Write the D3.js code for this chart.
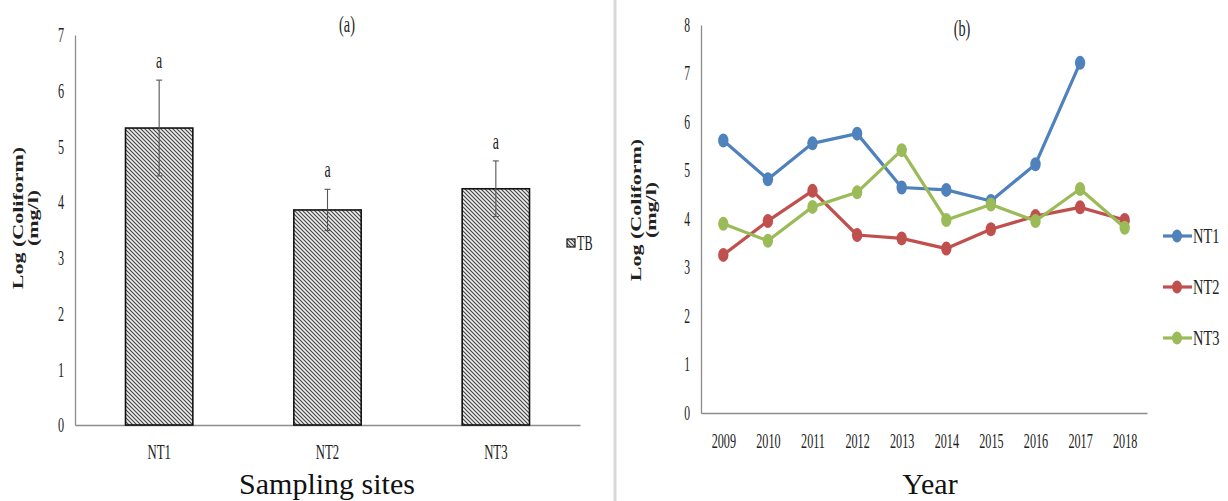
<!DOCTYPE html>
<html>
<head>
<meta charset="utf-8">
<script src="https://cdn.jsdelivr.net/npm/d3@7"></script>
<style>
  html, body { margin: 0; padding: 0; background: #fff; }
  svg { display: block; font-family: "Liberation Serif", "Times New Roman", serif; }
</style>
</head>
<body>
<svg id="chart" width="1228" height="501"></svg>
<script>
// Panel (a): mean log coliform per sampling site with error bars
const sites = ["NT1", "NT2", "NT3"];
const siteMeans = [5.33, 3.86, 4.24];
const siteErrors = [0.86, 0.37, 0.50];
const siteLetters = ["a", "a", "a"];
const barTicks = [0, 1, 2, 3, 4, 5, 6, 7];

// Panel (b): yearly log coliform per site
const years = ["2009", "2010", "2011", "2012", "2013", "2014", "2015", "2016", "2017", "2018"];
const nt1 = [5.62, 4.82, 5.56, 5.76, 4.65, 4.60, 4.37, 5.13, 7.22, null];
const nt2 = [3.26, 3.96, 4.58, 3.67, 3.60, 3.39, 3.79, 4.06, 4.24, 3.98];
const nt3 = [3.90, 3.55, 4.25, 4.55, 5.42, 3.98, 4.30, 3.96, 4.62, 3.82];
const seriesNames = ["NT1", "NT2", "NT3"];
const seriesColors = ["#4F81BD", "#C0504D", "#9BBB59"];
const lineTicks = [0, 1, 2, 3, 4, 5, 6, 7, 8];

const svg = d3.select("#chart");
const SX = 0.58;          // horizontal squeeze of the chart lettering
const ink = "#222";
const serif = "'Liberation Serif', 'Times New Roman', serif";

// helper: squeezed text placed at (x, y)
function label(x, y, txt, opts = {}) {
  const g = svg.append("g")
    .attr("transform", `translate(${x},${y}) scale(${opts.sx ?? SX},1)` + (opts.rotate ? " rotate(-90)" : ""));
  return g.append("text")
    .attr("text-anchor", opts.anchor || "middle")
    .attr("dominant-baseline", "central")
    .attr("font-family", serif)
    .attr("font-size", opts.size || 21)
    .attr("font-weight", opts.weight || "normal")
    .attr("fill", opts.fill || ink)
    .text(txt);
}

function styleTicks(sel, size) {
  sel.attr("font-size", size).attr("font-family", serif).attr("fill", ink);
}

// hatch fill for the bars
const defs = svg.append("defs");
const pat = defs.append("pattern")
  .attr("id", "hatch").attr("patternUnits", "userSpaceOnUse")
  .attr("width", 4).attr("height", 4);
pat.append("rect").attr("width", 4).attr("height", 4).attr("fill", "#eeeeee");
pat.append("path").attr("d", "M-1,-1 L5,5 M-1,3 L1,5 M3,-1 L5,1")
  .attr("stroke", "#464646").attr("stroke-width", 1.15);

// divider between panels
svg.append("line").attr("x1", 615).attr("x2", 615).attr("y1", 0).attr("y2", 501)
  .attr("stroke", "#d9d9d9").attr("stroke-width", 3);

// ---------- Panel (a) ----------
const xA = d3.scaleBand().domain(sites).range([75, 580]).paddingInner(0.6).paddingOuter(0.3);
const yA = d3.scaleLinear().domain([0, 7]).range([425, 35]);

const axA = svg.append("g").attr("transform", "translate(75,0)")
  .call(d3.axisLeft(yA).tickValues(barTicks).tickFormat(d3.format("d")).tickSize(0).tickPadding(0));
axA.select(".domain").attr("stroke", "#8c8c8c").attr("stroke-width", 1.3);
styleTicks(axA.selectAll(".tick text")
  .attr("transform", `scale(${SX},1)`).attr("x", -11 / SX), 21);

const axAx = svg.append("g").attr("transform", "translate(0,425)")
  .call(d3.axisBottom(xA).tickSize(0).tickPadding(0).tickSizeOuter(0));
axAx.select(".domain").attr("stroke", "#8c8c8c").attr("stroke-width", 1.3);
styleTicks(axAx.selectAll(".tick text")
  .attr("transform", `scale(${SX},1)`).attr("y", 27).attr("x", 0).attr("dy", "0.32em"), 22);

svg.append("g").selectAll("rect").data(sites).join("rect")
  .attr("x", d => xA(d))
  .attr("y", (d, i) => yA(siteMeans[i]))
  .attr("width", xA.bandwidth())
  .attr("height", (d, i) => yA(0) - yA(siteMeans[i]))
  .attr("fill", "url(#hatch)").attr("stroke", "#111").attr("stroke-width", 1.6);

const err = svg.append("g").attr("stroke", "#555").attr("stroke-width", 1.1);
sites.forEach((s, i) => {
  const cx = xA(s) + xA.bandwidth() / 2;
  const hi = yA(siteMeans[i] + siteErrors[i]), lo = yA(siteMeans[i] - siteErrors[i]);
  err.append("line").attr("x1", cx).attr("x2", cx).attr("y1", hi).attr("y2", lo);
  err.append("line").attr("x1", cx - 3).attr("x2", cx + 3).attr("y1", hi).attr("y2", hi);
  err.append("line").attr("x1", cx - 3).attr("x2", cx + 3).attr("y1", lo).attr("y2", lo);
  label(cx, hi - 20, siteLetters[i], { size: 24 });
});

label(347, 24, "(a)", { size: 23, sx: 0.62 });
label(327, 483, "Sampling sites", { size: 30, sx: 1, fill: "#111" });
label(19, 218, "Log (Coliform)", { size: 22, rotate: true, weight: "bold", sx: 0.62 });
label(34, 218, "(mg/l)", { size: 22, rotate: true, weight: "bold", sx: 0.62 });

// legend for the bars
svg.append("rect").attr("x", 567).attr("y", 239).attr("width", 8).attr("height", 8)
  .attr("fill", "url(#hatch)").attr("stroke", "#111").attr("stroke-width", 1.2);
label(577, 243, "TB", { anchor: "start", size: 21 });

// ---------- Panel (b) ----------
const xB = d3.scalePoint().domain(years).range([701, 1147]).padding(0.5);
const yB = d3.scaleLinear().domain([0, 8]).range([413, 25]);

const axB = svg.append("g").attr("transform", "translate(701,0)")
  .call(d3.axisLeft(yB).tickValues(lineTicks).tickFormat(d3.format("d")).tickSize(0).tickPadding(0));
axB.select(".domain").attr("stroke", "#8c8c8c").attr("stroke-width", 1.3);
styleTicks(axB.selectAll(".tick text")
  .attr("transform", `scale(${SX},1)`).attr("x", -11 / SX), 20);

const axBx = svg.append("g").attr("transform", "translate(0,413)")
  .call(d3.axisBottom(xB).tickSize(0).tickPadding(0).tickSizeOuter(0));
axBx.select(".domain").attr("stroke", "#8c8c8c").attr("stroke-width", 1.3);
styleTicks(axBx.selectAll(".tick text")
  .attr("transform", `scale(${SX},1)`).attr("y", 28).attr("dy", "0.32em"), 21);

const seriesData = [nt1, nt2, nt3];
const line = d3.line()
  .defined(d => d.v != null)
  .x(d => xB(d.year)).y(d => yB(d.v));

seriesData.forEach((vals, k) => {
  const pts = years.map((y, i) => ({ year: y, v: vals[i] }));
  const g = svg.append("g");
  g.append("path").datum(pts).attr("d", line)
    .attr("fill", "none").attr("stroke", seriesColors[k]).attr("stroke-width", 3.2)
    .attr("stroke-linejoin", "round");
  g.selectAll("ellipse").data(pts.filter(d => d.v != null)).join("ellipse")
    .attr("cx", d => xB(d.year)).attr("cy", d => yB(d.v))
    .attr("rx", 5.2).attr("ry", 7).attr("fill", seriesColors[k]);
});

label(962, 28, "(b)", { size: 23, sx: 0.62 });
label(930, 483, "Year", { size: 30, sx: 1, fill: "#111" });
label(637, 210, "Log (Coliform)", { size: 22, rotate: true, weight: "bold", sx: 0.62 });
label(652, 210, "(mg/l)", { size: 22, rotate: true, weight: "bold", sx: 0.62 });

// legend for the lines
seriesNames.forEach((n, k) => {
  const ly = 236 + k * 51;
  svg.append("line").attr("x1", 1163).attr("x2", 1192).attr("y1", ly).attr("y2", ly)
    .attr("stroke", seriesColors[k]).attr("stroke-width", 3.2);
  svg.append("ellipse").attr("cx", 1177).attr("cy", ly).attr("rx", 5).attr("ry", 6.5)
    .attr("fill", seriesColors[k]);
  label(1193, ly, n, { anchor: "start", size: 20, sx: 0.72 });
});
</script>
</body>
</html>
